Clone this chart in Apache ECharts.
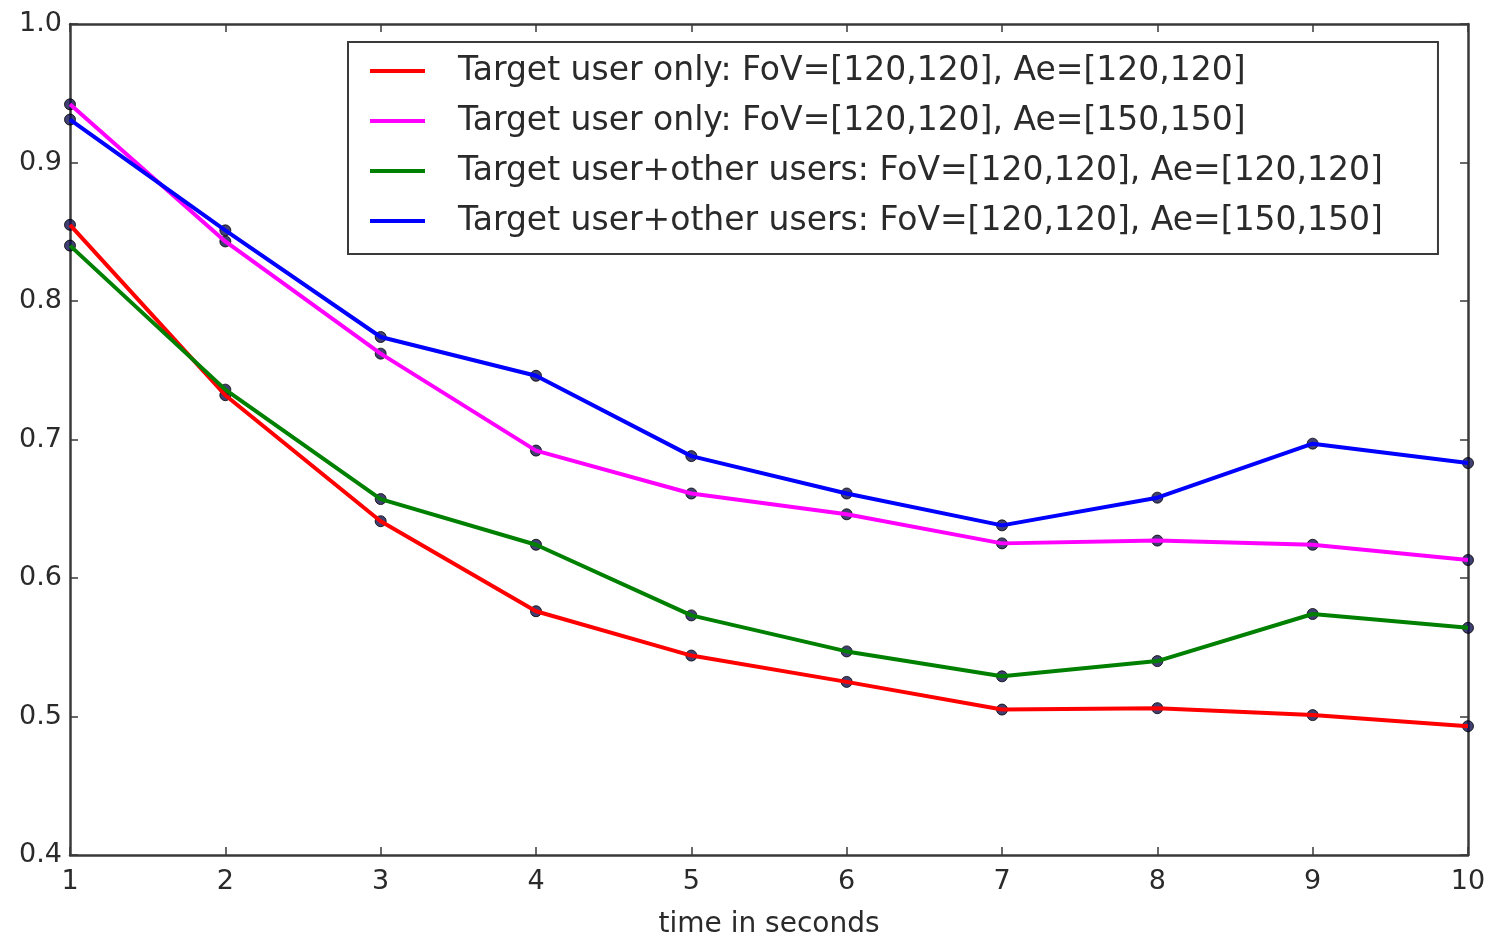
<!DOCTYPE html>
<html>
<head>
<meta charset="utf-8">
<script src="https://cdn.jsdelivr.net/npm/echarts@6/dist/echarts.min.js"></script>
<style>
  html, body { margin: 0; padding: 0; background: #fff; }
  #chart { width: 1489px; height: 937px; }
</style>
</head>
<body>
<div id="chart"></div>
<script>
// data
var seconds = [1, 2, 3, 4, 5, 6, 7, 8, 9, 10];
var yTicks = [0.4, 0.5, 0.6, 0.7, 0.8, 0.9, 1.0];
var seriesNames = [
    'Target user only: FoV=[120,120], Ae=[120,120]',
    'Target user only: FoV=[120,120], Ae=[150,150]',
    'Target user+other users: FoV=[120,120], Ae=[120,120]',
    'Target user+other users: FoV=[120,120], Ae=[150,150]'
];
var seriesColors = ['#ff0000', '#ff00ff', '#008000', '#0000ff'];
var onlyAe120 = [0.855, 0.732, 0.641, 0.576, 0.544, 0.525, 0.505, 0.506, 0.501, 0.493];
var onlyAe150 = [0.942, 0.843, 0.762, 0.692, 0.661, 0.646, 0.625, 0.627, 0.624, 0.613];
var othersAe120 = [0.840, 0.736, 0.657, 0.624, 0.573, 0.547, 0.529, 0.540, 0.574, 0.564];
var othersAe150 = [0.931, 0.851, 0.774, 0.746, 0.688, 0.661, 0.638, 0.658, 0.697, 0.683];
var allValues = [onlyAe120, onlyAe150, othersAe120, othersAe150];

function toPoints(values) {
    var res = [];
    for (var i = 0; i < values.length; i++) {
        res.push([seconds[i], values[i]]);
    }
    return res;
}

var font = 'DejaVu Sans';
var frameColor = '#3a3a3a';
var textColor = '#2a2a2a';

var series = [];
// dots first, underneath the lines
for (var i = 0; i < allValues.length; i++) {
    series.push({
        type: 'scatter',
        data: toPoints(allValues[i]),
        symbolSize: 11,
        z: 1,
        itemStyle: { color: '#10104f', borderColor: '#000', borderWidth: 1 },
        silent: true
    });
}
for (var i = 0; i < allValues.length; i++) {
    series.push({
        name: seriesNames[i],
        type: 'line',
        data: toPoints(allValues[i]),
        symbol: 'none',
        z: 2,
        lineStyle: { color: seriesColors[i], width: 4 },
        itemStyle: { color: seriesColors[i] }
    });
}

var chart = echarts.init(document.getElementById('chart'));
chart.setOption({
    animation: false,
    backgroundColor: '#fff',
    grid: { left: 70, right: 21, top: 24, bottom: 82, outerBoundsMode: 'none' },
    legend: {
        data: seriesNames,
        orient: 'vertical',
        left: 348,
        top: 42,
        padding: [11, 55, 15, 22],
        itemGap: 14,
        itemWidth: 55,
        itemHeight: 4,
        icon: 'rect',
        borderColor: frameColor,
        borderWidth: 2,
        backgroundColor: '#fff',
        textStyle: {
            fontFamily: font,
            fontSize: 33,
            color: textColor,
            lineHeight: 36,
            padding: [0, 0, 0, 28]
        }
    },
    xAxis: [{
        type: 'value',
        min: 1,
        max: 10,
        interval: 1,
        name: 'time in seconds',
        nameLocation: 'middle',
        nameGap: 56,
        nameTextStyle: { fontFamily: font, fontSize: 28, color: textColor },
        axisLine: { show: true, lineStyle: { color: frameColor, width: 2.5 } },
        axisTick: { show: true, inside: true, length: 8, lineStyle: { color: frameColor, width: 1.5 } },
        axisLabel: { fontFamily: font, fontSize: 27, color: textColor, margin: 13 },
        splitLine: { show: false }
    }, {
        type: 'value',
        position: 'top',
        min: 1,
        max: 10,
        interval: 1,
        axisLine: { show: true, lineStyle: { color: frameColor, width: 2.5 } },
        axisTick: { show: true, inside: true, length: 8, lineStyle: { color: frameColor, width: 1.5 } },
        axisLabel: { show: false },
        splitLine: { show: false }
    }],
    yAxis: [{
        type: 'value',
        min: 0.4,
        max: 1.0,
        interval: 0.1,
        axisLine: { show: true, lineStyle: { color: frameColor, width: 2.5 } },
        axisTick: { show: true, inside: true, length: 8, lineStyle: { color: frameColor, width: 1.5 } },
        axisLabel: {
            fontFamily: font, fontSize: 27, color: textColor, margin: 8,
            formatter: function (v) { return v.toFixed(1); }
        },
        splitLine: { show: false }
    }, {
        type: 'value',
        position: 'right',
        min: 0.4,
        max: 1.0,
        interval: 0.1,
        axisLine: { show: true, lineStyle: { color: frameColor, width: 2.5 } },
        axisTick: { show: true, inside: true, length: 8, lineStyle: { color: frameColor, width: 1.5 } },
        axisLabel: { show: false },
        splitLine: { show: false }
    }],
    series: series
});
</script>
</body>
</html>
